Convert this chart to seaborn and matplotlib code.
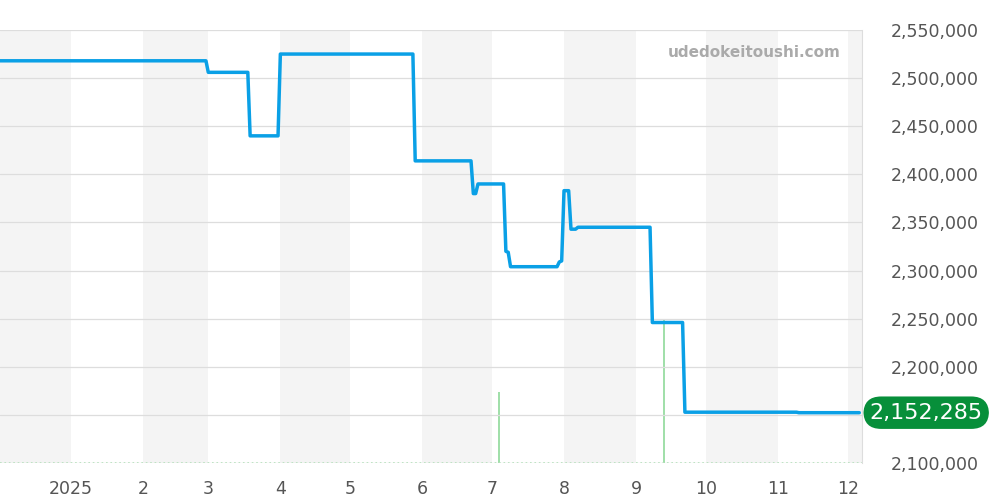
import matplotlib
matplotlib.use("Agg")
import matplotlib.pyplot as plt
import seaborn as sns
import pandas as pd

# ============================================================
# Data (price change points, volume spikes)
# ============================================================

price_dates = [
    "2024-12-01", "2025-02-28", "2025-03-01", "2025-03-18", "2025-03-19",
    "2025-03-31", "2025-04-01", "2025-05-28", "2025-05-29", "2025-06-22",
    "2025-06-23", "2025-06-24", "2025-06-25", "2025-07-06", "2025-07-07",
    "2025-07-08", "2025-07-09", "2025-07-29", "2025-07-30", "2025-07-31",
    "2025-08-01", "2025-08-03", "2025-08-04", "2025-08-06", "2025-08-07",
    "2025-09-07", "2025-09-08", "2025-09-21", "2025-09-22", "2025-11-09",
    "2025-11-10", "2025-12-06",
]
price_values = [
    2518000, 2518000, 2506000, 2506000, 2440000,
    2440000, 2525000, 2525000, 2414000, 2414000,
    2380000, 2380000, 2390000, 2390000, 2320000,
    2319000, 2304000, 2304000, 2309000, 2310000,
    2383000, 2383000, 2343000, 2343000, 2345000,
    2345000, 2246000, 2246000, 2152800, 2152800,
    2152285, 2152285,
]

volume_dates = ["2025-07-04", "2025-09-13"]
volume_values = [1, 2]

last_price = 2152285

y_ticks = [2100000, 2150000, 2200000, 2250000, 2300000, 2350000,
           2400000, 2450000, 2500000, 2550000]

month_labels = ["2025", "2", "3", "4", "5", "6", "7", "8", "9", "10", "11", "12"]

# ============================================================
# Figure
# ============================================================

sns.set_style("white")
plt.rcParams["font.family"] = ["DejaVu Sans"]

fig = plt.figure(figsize=(10, 5), dpi=100)
ax = fig.add_axes([0.0, 0.074, 0.862, 0.866])

x_start = pd.Timestamp("2024-12-01 10:00")
x_end = pd.Timestamp("2025-12-07 04:00")

# alternating month bands
months = pd.date_range("2024-12-01", "2026-01-01", freq="MS")
for i in range(len(months) - 1):
    if i % 2 == 0:
        ax.axvspan(months[i], months[i + 1], color="#f4f4f4", lw=0, zorder=0)

# volume on twin axis
ax2 = ax.twinx()
vol = pd.DataFrame({"date": pd.to_datetime(volume_dates), "vol": volume_values})
for d, v in zip(vol["date"], vol["vol"]):
    ax2.vlines(d, 0, v, color="#8fd99a", lw=1.2)
ax2.set_ylim(0, 6.06)
ax2.axis("off")

# price line
df = pd.DataFrame({"date": pd.to_datetime(price_dates), "price": price_values})
sns.lineplot(data=df, x="date", y="price", ax=ax, color="#0aa0e6",
             linewidth=2.5, zorder=5)
ax.set_zorder(ax2.get_zorder() + 1)
ax.patch.set_visible(False)

ax.set_xlim(x_start, x_end)
ax2.set_xlim(x_start, x_end)
ax.set_ylim(2100000, 2550000)

# grid
for t in y_ticks:
    ax.axhline(t, color="#dddddd", lw=0.9, zorder=1)
ax.axhline(2100000, color="#b5dfbb", lw=1.2, ls=":", zorder=2)

# the 2,150,000 label sits under the last-price badge
ax.yaxis.tick_right()
ax.set_yticks(y_ticks)
ax.set_yticklabels(["" if t == 2150000 else f"{t:,}" for t in y_ticks])
ax.tick_params(axis="y", length=0, pad=21, labelsize=12.5, labelcolor="#555555")

ax.set_xticks(months[1:13])
ax.set_xticklabels(month_labels)
ax.tick_params(axis="x", length=4, color="#cccccc", labelsize=12.5,
               labelcolor="#555555", pad=8)

ax.set_xlabel("")
ax.set_ylabel("")

for s in ["top", "left", "bottom"]:
    ax.spines[s].set_visible(False)
ax.spines["right"].set_color("#dddddd")

# watermark
ax.text(0.975, 0.948, "udedokeitoushi.com", transform=ax.transAxes,
        ha="right", va="center", fontsize=11, fontweight="bold", color="#aaaaaa")

# last price label
ax.annotate(f"{last_price:,}", xy=(1.0, last_price),
            xycoords=("axes fraction", "data"),
            xytext=(5.5, 0), textcoords="offset points",
            ha="left", va="center", fontsize=16, color="white",
            bbox=dict(boxstyle="round,pad=0.28,rounding_size=0.8",
                      fc="#078f3a", ec="none"), zorder=10,
            annotation_clip=False)

fig.savefig("out.png", dpi=100)
